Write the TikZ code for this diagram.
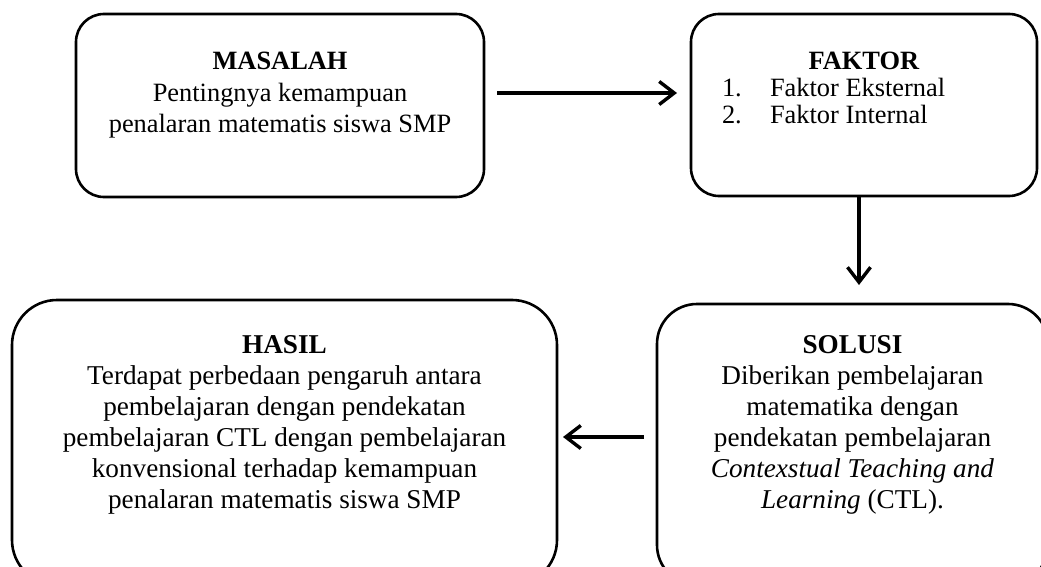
\documentclass[tikz,border=0pt]{standalone}
\usepackage{fontspec}
\setmainfont{Liberation Serif}
\usetikzlibrary{arrows.meta}
\begin{document}
\begin{tikzpicture}[x=1pt,y=1pt,
  boxstyle/.style={draw=black, line width=2.6pt, rounded corners=#1, inner sep=0pt, outer sep=0pt},
  txt/.style={inner sep=0pt, outer sep=0pt, anchor=base},
  arr/.style={line width=3.4pt, -{Straight Barb[length=15pt,width=23pt]}}]
\useasboundingbox (0,0) rectangle (1041,566);
% boxes
\node[boxstyle=28pt, minimum width=408pt, minimum height=183pt] (m) at (280,460.5) {};
\node[boxstyle=28pt, minimum width=346pt, minimum height=182pt] (f) at (864,461) {};
\node[boxstyle=45pt, minimum width=545pt, minimum height=285pt] (h) at (284.5,123.5) {};
\node[boxstyle=40pt, minimum width=391pt, minimum height=281pt] (s) at (852.5,121.5) {};
% texts
\node[txt] (mt) at (280,496) {\fontsize{26.4}{31.5}\selectfont\begin{tabular}[t]{@{}c@{}}\textbf{MASALAH}\\ Pentingnya kemampuan\\ penalaran matematis siswa SMP\end{tabular}};
\node[txt] (ft) at (864,496) {\fontsize{26.4}{31.5}\selectfont\textbf{FAKTOR}};
\node[txt, anchor=base west] (fl) at (722,469) {\fontsize{26.4}{26}\selectfont\begin{tabular}[t]{@{}p{48pt}@{}l@{}}1. & Faktor Eksternal\\ 2. & Faktor Internal\end{tabular}};
\node[txt] (ht) at (284.5,213) {\fontsize{27.2}{31}\selectfont\begin{tabular}[t]{@{}c@{}}\textbf{HASIL}\\ Terdapat perbedaan pengaruh antara\\ pembelajaran dengan pendekatan\\ pembelajaran CTL dengan pembelajaran\\ konvensional terhadap kemampuan\\ penalaran matematis siswa SMP\end{tabular}};
\node[txt] (st) at (852.5,213) {\fontsize{27.2}{31}\selectfont\begin{tabular}[t]{@{}c@{}}\textbf{SOLUSI}\\ Diberikan pembelajaran\\ matematika dengan\\ pendekatan pembelajaran\\ \textit{Contexstual Teaching and}\\ \textit{Learning} (CTL).\end{tabular}};
% connectors
\coordinate (me) at ([yshift=12.5pt]m.east);
\draw[arr, shorten <=13pt, shorten >=14pt] (me) -- (me -| f.west);
\coordinate (fd) at ([xshift=-5pt]f.south);
\draw[arr, shorten >=19pt] (fd) -- (fd |- s.north);
\coordinate (sw) at ([yshift=7.5pt]s.west);
\draw[arr, shorten <=13pt, shorten >=6pt] (sw) -- (sw -| h.east);
\end{tikzpicture}
\end{document}
